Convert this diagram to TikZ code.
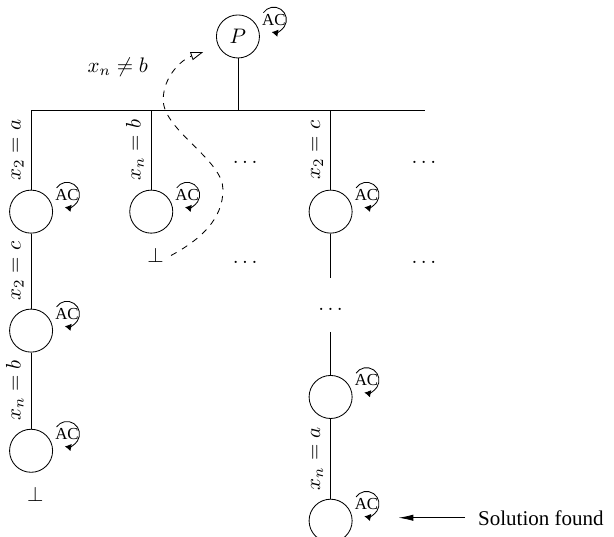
\documentclass[tikz,border=0pt]{standalone}
\usepackage{fontspec}
\setmainfont{Liberation Serif}
\usetikzlibrary{arrows.meta,positioning}

\begin{document}
\begin{tikzpicture}[x=1cm,y=1cm,
  state/.style={circle,draw,minimum size=0.72cm,inner sep=0pt},
  lbl/.style={midway,sloped,above}]
  \useasboundingbox (0,0) rectangle (10.27,8.98);
  \node[state] (P) at (3.98,8.37) {$P$};
  \coordinate (barL) at (0.52,7.13); \coordinate (barR) at (7.11,7.13);
  \draw (barL) -- (barR); \draw (P) -- (P |- barL);
  % left branch
  \node[state] (a1) at (0.52,5.44) {};
  \node[state] (a2) at (0.52,3.45) {};
  \node[state] (a3) at (0.52,1.44) {};
  \draw (a1) -- (barL) node[lbl]{$x_2=a$};
  \draw (a2) -- (a1) node[lbl]{$x_2=c$};
  \draw (a3) -- (a2) node[lbl]{$x_n=b$};
  \node (bota) [below=0.12cm of a3,xshift=0.07cm] {$\bot$};
  % second branch, failed
  \node[state] (b1) at (2.53,5.44) {};
  \draw (b1) -- (b1 |- barL) node[lbl]{$x_n=b$};
  \node (botb) [below=0.12cm of b1,xshift=0.07cm] {$\bot$};
  \node (neq) at (1.97,7.86) {$x_n \neq b$};
  \coordinate (tip) at (3.40,8.11);
  \draw[dashed,-{Triangle[open,length=6pt,width=4pt]}] (botb.east)
    .. controls (3.35,4.97) and (3.73,5.31) .. (3.73,5.81)
    .. controls (3.73,6.31) and (2.73,6.80) .. (2.73,7.31)
    .. controls (2.73,7.71) and (3.05,7.99) .. (tip);
  % right branch
  \node[state] (c1) at (5.53,5.44) {};
  \node[state] (c2) at (5.53,2.34) {};
  \node[state] (c3) at (5.53,0.27) {};
  \coordinate (c1e) at (5.53,4.33); \coordinate (c2s) at (5.53,3.43);
  \draw (c1) -- (c1 |- barL) node[lbl]{$x_2=c$};
  \draw (c1) -- (c1e); \draw (c2s) -- (c2);
  \draw (c3) -- (c2) node[lbl]{$x_n=a$};
  \node (d1) at (4.10,6.26) {$\ldots$}; \node (d2) at (7.09,6.26) {$\ldots$};
  \node (d3) at (4.10,4.59) {$\ldots$}; \node (d4) at (7.09,4.59) {$\ldots$};
  \node (d5) at (5.53,3.80) {$\ldots$};
  % arc consistency marks
  \foreach \n in {P,a1,a2,a3,b1,c1,c2,c3}{
    \node[font=\footnotesize,inner sep=1pt] (\n-ac) at ([shift={(0.60,0.28)}]\n.center) {AC};
    \draw[-{Latex[length=3pt,width=3.5pt]}] ([shift={(146:0.21)}]\n-ac.center)
      arc[start angle=146,end angle=-100,radius=0.21];
  }
  \node[right,inner xsep=6pt] (sol) at (7.78,0.32) {Solution found};
  \draw[-{Latex[length=7pt,width=3pt]}] (sol.west) -- ([xshift=0.77cm]c3.east |- sol.west);
\end{tikzpicture}
\end{document}
